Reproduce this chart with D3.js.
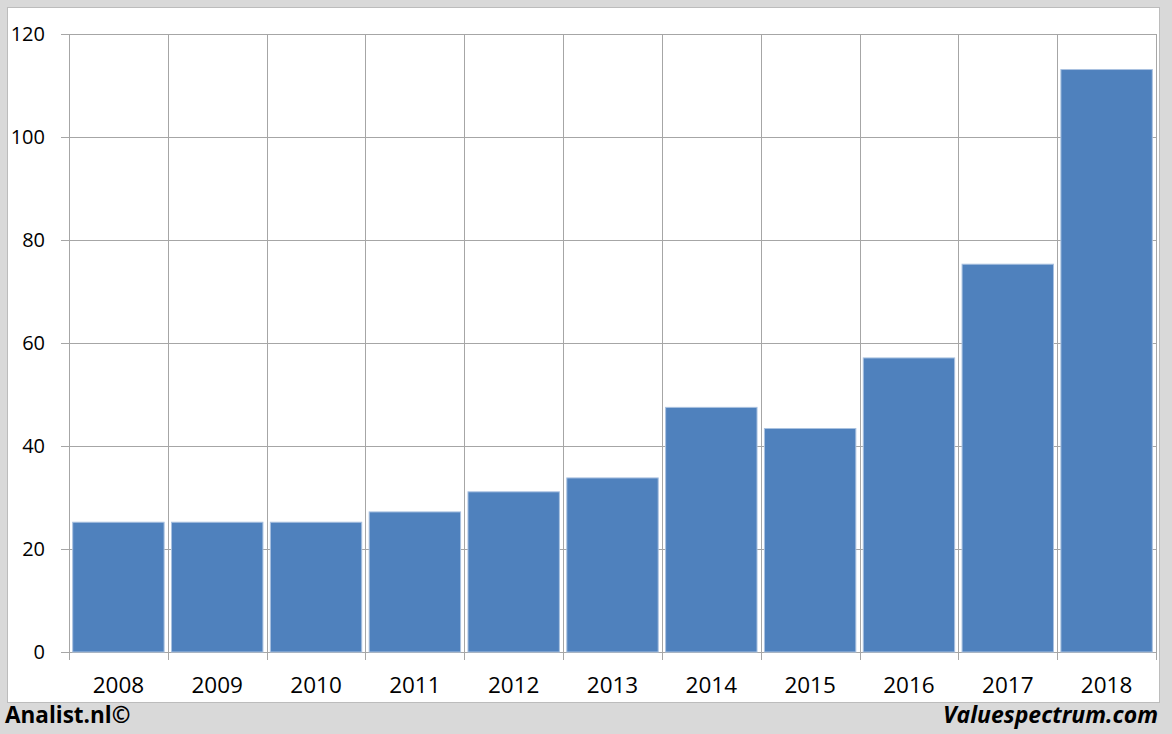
<!DOCTYPE html>
<html><head><meta charset="utf-8">
<script src="https://cdn.jsdelivr.net/npm/d3@7"></script>
<style>html,body{margin:0;padding:0;background:#d9d9d9;}svg{display:block;}</style>
</head><body>
<script>
const years = ["2008","2009","2010","2011","2012","2013","2014","2015","2016","2017","2018"];
const values = [25.2,25.2,25.2,27.2,31.1,33.8,47.5,43.4,57.1,75.3,113.1];
const yTicks = [0,20,40,60,80,100,120];

(function(){
const W=1172,H=734;
const svg=d3.select("body").append("svg").attr("width",W).attr("height",H);
svg.append("rect").attr("width",W).attr("height",H).attr("fill","#d9d9d9");
svg.append("rect").attr("x",7.5).attr("y",7.5).attr("width",1152).attr("height",695)
  .attr("fill","#fff").attr("stroke","#bcbcbc").attr("stroke-width",1);

const pl=69,pr=1156,pt=34,pb=652;
const x=d3.scaleBand().domain(years).range([pl,pr]).paddingInner(0.075).paddingOuter(0.0375);
const xb=d3.scaleBand().domain(years).range([pl,pr]);
const y=d3.scaleLinear().domain([0,120]).range([pb,pt]);
const font="'Open Sans', 'Noto Sans', sans-serif";

const g=svg.append("g");
g.selectAll("line.h").data(yTicks).join("line")
  .attr("x1",pl-8).attr("x2",pr).attr("y1",d=>Math.round(y(d))+0.5).attr("y2",d=>Math.round(y(d))+0.5)
  .attr("stroke","#a6a6a6").attr("stroke-width",1);
const bounds=years.map(d=>xb(d)).concat([pr]);
g.selectAll("line.v").data(bounds).join("line")
  .attr("x1",d=>Math.round(d)+0.5).attr("x2",d=>Math.round(d)+0.5)
  .attr("y1",pt).attr("y2",pb+8)
  .attr("stroke","#a6a6a6").attr("stroke-width",1);

g.selectAll("rect.bar").data(years).join("rect")
  .attr("x",d=>x(d)).attr("width",x.bandwidth())
  .attr("y",(d,i)=>y(values[i])).attr("height",(d,i)=>y(0)-y(values[i]))
  .attr("fill","#4f81bd").attr("stroke","#a9c1e0").attr("stroke-width",1);

g.selectAll("text.y").data(yTicks).join("text")
  .attr("x",45).attr("y",d=>y(d)).attr("dy","0.35em").attr("text-anchor","end")
  .attr("font-family",font).attr("font-size",20).attr("fill","#000").text(d=>d);
g.selectAll("text.x").data(years).join("text")
  .attr("x",d=>xb(d)+xb.bandwidth()/2).attr("y",685).attr("dy","0.35em").attr("text-anchor","middle")
  .attr("font-family",font).attr("font-size",22.5).attr("fill","#000").text(d=>d);

svg.append("text").attr("x",5).attr("y",723).attr("font-family",font).attr("font-weight","bold")
  .attr("font-size",22.5).attr("fill","#000").text("Analist.nl©");
svg.append("text").attr("x",1158).attr("y",723).attr("text-anchor","end").attr("font-family",font)
  .attr("font-weight","bold").attr("font-style","italic").attr("font-size",23).attr("fill","#000").text("Valuespectrum.com");
})();
</script>
</body></html>
